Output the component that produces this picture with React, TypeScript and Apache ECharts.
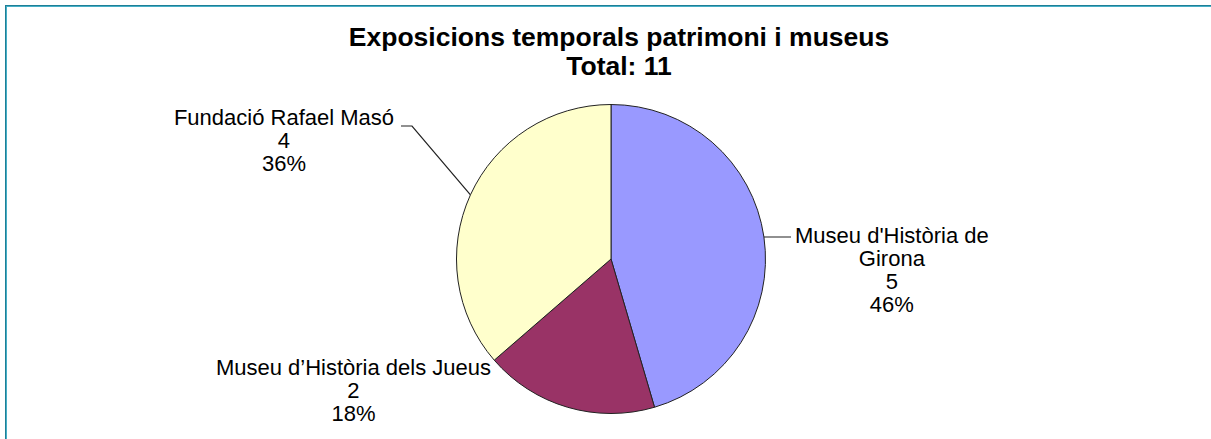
import React, { useEffect, useRef } from "react";
import * as echarts from "echarts";

const titleText = "Exposicions temporals patrimoni i museus";
const subtitleText = "Total: 11";
const categories = ["Museu d'Història de Girona", "Museu d’Història dels Jueus", "Fundació Rafael Masó"];
const labelNames = ["Museu d'Història de\nGirona", "Museu d’Història dels Jueus", "Fundació Rafael Masó"];
const values = [5, 2, 4];
const colors = ["#9999ff", "#993366", "#ffffcc"];

const FONT = "'Liberation Sans', Arial, sans-serif";

export default function App() {
  const ref = useRef<HTMLDivElement>(null);
  useEffect(() => {
    if (!ref.current) return;
    const chart = echarts.init(ref.current, null, { renderer: "svg" });
    const data = categories.map((name, i) => ({
      name,
      value: values[i],
      itemStyle: { color: colors[i] },
      labelLine: { show: i !== 1 },
    }));
    chart.setOption({
      animation: false,
      backgroundColor: "transparent",
      title: {
        text: titleText + "\n" + subtitleText,
        left: 614,
        top: 17,
        textAlign: "center",
        textStyle: {
          fontFamily: FONT,
          fontWeight: "bold",
          fontSize: 26.5,
          lineHeight: 29,
          color: "#000",
        },
      },
      series: [
        {
          type: "pie",
          center: [611, 259],
          radius: 154.5,
          startAngle: 90,
          clockwise: true,
          data,
          itemStyle: { borderColor: "#222", borderWidth: 1 },
          label: {
            show: true,
            position: "outside",
            color: "#000",
            fontFamily: FONT,
            fontSize: 22,
            lineHeight: 23,
            formatter: (p: any) => {
              const lines = [...labelNames[p.dataIndex].split("\n"), String(p.value), p.percent + "%"];
              return lines.map((l) => `{c|${l}}`).join("\n");
            },
            rich: {
              c: { align: "center", fontFamily: FONT, fontSize: 22, lineHeight: 23, color: "#000" },
            },
          },
          labelLine: {
            show: true,
            length: 12,
            length2: 12,
            lineStyle: { color: "#222", width: 1.2 },
          },
          percentPrecision: 0,
          labelLayout: (params: any) => {
            const p0 = params.labelLinePoints ? params.labelLinePoints[0] : [0, 0];
            if (params.dataIndex === 0) {
              return {
                x: 795,
                y: 223.5,
                align: "left",
                verticalAlign: "top",
                labelLinePoints: [p0, [779, 237], [791, 237]],
              };
            }
            if (params.dataIndex === 2) {
              return {
                x: 394,
                y: 105.5,
                align: "right",
                verticalAlign: "top",
                labelLinePoints: [p0, [412, 126], [401, 126]],
              };
            }
            return {
              x: 491,
              y: 355.5,
              align: "right",
              verticalAlign: "top",
            };
          },
        },
      ],
    });
    return () => chart.dispose();
  }, []);

  return (
    <div
      style={{
        position: "fixed",
        left: 0,
        top: 0,
        width: 1211,
        height: 439,
        overflow: "hidden",
        background: "#fff",
      }}
    >
      <div
        style={{
          position: "absolute",
          left: 5,
          top: 5,
          width: 1400,
          height: 600,
          border: "1px solid #1f7f96",
        }}
      >
        <div
          style={{
            position: "absolute",
            left: 0,
            top: 0,
            right: 0,
            bottom: 0,
            border: "1px solid #45afc7",
          }}
        />
      </div>
      <div ref={ref} style={{ position: "absolute", left: 0, top: 0, width: 1211, height: 439 }} />
    </div>
  );
}
